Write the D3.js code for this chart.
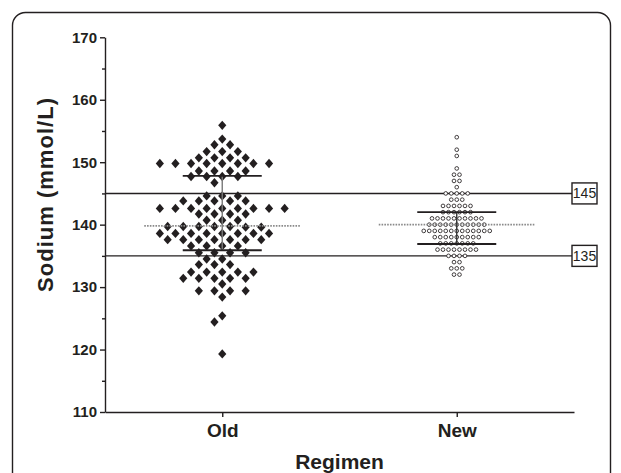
<!DOCTYPE html>
<html><head><meta charset="utf-8">
<script src="https://cdn.jsdelivr.net/npm/d3@7"></script>
<style>html,body{margin:0;padding:0;background:#fff;overflow:hidden}</style>
</head><body><svg id="chart" width="621" height="473"></svg>
<script>
// ---------- data ----------
const groups = ["Old", "New"];
const oldValues = [
  155.9,
  153.7,
  152.8, 152.8,
  151.7, 151.7, 151.7,
  150.7, 150.7, 150.7, 150.7,
  149.8, 149.8, 149.8, 149.8, 149.8, 149.8, 149.8, 149.8,
  148.6, 148.6, 148.6, 148.6,
  147.7, 147.7, 147.7, 147.7,
  146.7,
  144.6, 144.6, 144.6,
  143.8, 143.8, 143.8, 143.8, 143.8,
  142.6, 142.6, 142.6, 142.6, 142.6, 142.6, 142.6, 142.6, 142.6,
  141.7, 141.7, 141.7, 141.7,
  140.7, 140.7, 140.7,
  139.7, 139.7, 139.7, 139.7, 139.7, 139.6, 139.6,
  138.6, 138.6, 138.6, 138.6, 138.6, 138.6, 138.6, 138.6,
  137.6, 137.6, 137.6, 137.6, 137.6, 137.6, 137.6,
  136.6, 136.6, 136.6, 136.6,
  135.5, 135.5, 135.5, 135.5,
  134.5, 134.5,
  133.6, 133.6, 133.6,
  132.4, 132.4, 132.4, 132.4, 132.4,
  131.4, 131.4, 131.4, 131.4, 131.4,
  130.5,
  129.4, 129.4, 129.4, 129.4,
  128.4,
  125.4,
  124.4,
  119.3
];
const newValues = [
  154,
  152,
  151,
  149,
  148, 148,
  147, 147,
  146,
  145, 145, 145, 145, 145,
  144, 144, 144,
  143, 143, 143, 143, 143, 143,
  142, 142, 142, 142, 142, 142,
  141, 141, 141, 141, 141, 141, 141, 141, 141, 141,
  140, 140, 140, 140, 140, 140, 140, 140, 140, 140, 140,
  139, 139, 139, 139, 139, 139, 139, 139, 139, 139, 139, 139, 139,
  138, 138, 138, 138, 138, 138, 138, 138, 138,
  137, 137, 137, 137, 137, 137, 137,
  136, 136, 136, 136, 136, 136, 136, 136,
  135, 135, 135, 135,
  134, 134,
  133, 133, 133,
  132, 132
];
const yTicks = [110, 120, 130, 140, 150, 160, 170];
const yMinorTicks = [115, 125, 135, 145, 155, 165];
const refLines = [145, 135];
const sdHigh = [147.8, 142.0];
const sdLow = [135.9, 136.9];
const centerLine = [139.8, 140.0];

// ---------- setup ----------
const svg = d3.select("#chart");
const font = "'Liberation Sans', Arial, Helvetica, sans-serif";
const ink = "#231f20";

const y = d3.scaleLinear().domain([110, 170]).range([412, 37.3]);
const x = d3.scalePoint().domain(groups).range([105, 574]).padding(0.5);

// outer frame
svg.append("rect")
  .attr("x", 12.5).attr("y", 12.5).attr("width", 598).attr("height", 520)
  .attr("rx", 13).attr("ry", 13)
  .attr("fill", "none").attr("stroke", ink).attr("stroke-width", 1.4);

// ---------- row-based dot layout ----------
function swarm(values, step, shiftable) {
  const sorted = values.map(v => ({ v })).sort((a, b) => b.v - a.v);
  const rows = [];
  let cur = null;
  for (const p of sorted) {
    if (cur && cur[cur.length - 1].v - p.v < 0.5) cur.push(p);
    else { cur = [p]; rows.push(cur); }
  }
  const placed = [];
  for (const row of rows) {
    const n = row.length;
    const base = row.map((p, k) => (k - (n - 1) / 2) * step);
    let offs = base;
    if (shiftable) {
      let best = Infinity;
      for (const s of [0, -step / 2, step / 2]) {
        const cand = base.map(o => o + s);
        let hits = 0;
        row.forEach((p, k) => placed.forEach(q => {
          if (Math.abs(q.dx - cand[k]) < step / 4 && Math.abs(y(q.v) - y(p.v)) < 6.5) hits++;
        }));
        if (hits < best) { best = hits; offs = cand; }
        if (hits === 0) break;
      }
    }
    row.forEach((p, k) => placed.push({ v: p.v, dx: offs[k] }));
  }
  return placed;
}

// ---------- reference lines ----------
const refG = svg.append("g");
refG.selectAll("line").data(refLines).join("line")
  .attr("x1", x.range()[0]).attr("x2", 572)
  .attr("y1", d => y(d)).attr("y2", d => y(d))
  .attr("stroke", ink).attr("stroke-width", 1.4);

// ---------- points ----------
const diamond = {
  draw(ctx) {
    const w = 4.1, h = 4.7;
    ctx.moveTo(0, -h); ctx.lineTo(w, 0); ctx.lineTo(0, h); ctx.lineTo(-w, 0); ctx.closePath();
  }
};
svg.append("g").selectAll("path")
  .data(swarm(oldValues, 15.6, true)).join("path")
  .attr("d", d3.symbol(diamond)())
  .attr("transform", d => `translate(${x("Old") + d.dx},${y(d.v)})`)
  .attr("fill", ink);

svg.append("g").selectAll("circle")
  .data(swarm(newValues, 5.5, false)).join("circle")
  .attr("cx", d => x("New") + d.dx).attr("cy", d => y(d.v))
  .attr("r", 1.85)
  .attr("fill", "#fff").attr("stroke", ink).attr("stroke-width", 0.85);

// ---------- summary lines ----------
const stats = groups.map((g, i) => ({ g, hi: sdHigh[i], lo: sdLow[i], c: centerLine[i] }));
const sg = svg.append("g");
sg.selectAll(".dot").data(stats).join("line")
  .attr("x1", d => x(d.g) - 78).attr("x2", d => x(d.g) + 78)
  .attr("y1", d => y(d.c)).attr("y2", d => y(d.c))
  .attr("stroke", "#8a8a8a").attr("stroke-width", 1.6).attr("stroke-dasharray", "1.6,1.2");
sg.selectAll(".vert").data(stats).join("line")
  .attr("x1", d => x(d.g)).attr("x2", d => x(d.g))
  .attr("y1", d => y(d.hi)).attr("y2", d => y(d.lo))
  .attr("stroke", (d, i) => i === 0 ? "#7a7a7a" : "#333").attr("stroke-width", 1.4);
["hi", "lo"].forEach(k => {
  sg.append("g").selectAll("line").data(stats).join("line")
    .attr("x1", d => x(d.g) - 39.5).attr("x2", d => x(d.g) + 39.5)
    .attr("y1", d => y(d[k])).attr("y2", d => y(d[k]))
    .attr("stroke", ink).attr("stroke-width", 1.8);
});

// ---------- boxes for reference values ----------
const bx = svg.append("g");
const boxes = bx.selectAll("g").data(refLines).join("g")
  .attr("transform", d => `translate(572,${y(d)})`);
boxes.append("rect")
  .attr("x", 0).attr("y", -10.5).attr("width", 25).attr("height", 21)
  .attr("fill", "#fff").attr("stroke", ink).attr("stroke-width", 1.4);
boxes.append("text")
  .attr("x", 12.5).attr("y", 0).attr("dy", "0.36em")
  .attr("text-anchor", "middle")
  .attr("font-family", font).attr("font-size", 14).attr("fill", ink)
  .text(d => d);

// ---------- axes ----------
const yAxis = svg.append("g").attr("transform", `translate(${x.range()[0]},0)`)
  .call(d3.axisLeft(y).tickValues(yTicks).tickSize(5).tickPadding(3).tickSizeOuter(0));
svg.append("g").attr("transform", `translate(${x.range()[0]},0)`)
  .call(d3.axisLeft(y).tickValues(yMinorTicks).tickSize(3).tickFormat("").tickSizeOuter(0))
  .call(g => g.select(".domain").remove());
const xAxis = svg.append("g").attr("transform", `translate(0,${y.range()[0]})`)
  .call(d3.axisBottom(x).tickSize(5).tickPadding(7).tickSizeOuter(0));

svg.selectAll(".domain, .tick line").attr("stroke", ink).attr("stroke-width", 1.4);
yAxis.selectAll("text").attr("font-family", font).attr("font-size", 15)
  .attr("font-weight", "bold").attr("fill", ink);
xAxis.selectAll("text").attr("font-family", font).attr("font-size", 19)
  .attr("font-weight", "bold").attr("fill", ink);

// axis titles
svg.append("text")
  .attr("x", (x.range()[0] + x.range()[1]) / 2).attr("y", 469)
  .attr("text-anchor", "middle")
  .attr("font-family", font).attr("font-size", 21).attr("font-weight", "bold").attr("fill", ink)
  .text("Regimen");
svg.append("text")
  .attr("transform", "translate(53,195) rotate(-90)")
  .attr("text-anchor", "middle")
  .attr("font-family", font).attr("font-size", 22).attr("font-weight", "bold").attr("fill", ink)
  .attr("textLength", 194).attr("lengthAdjust", "spacing")
  .text("Sodium (mmol/L)");
</script>
</body></html>
